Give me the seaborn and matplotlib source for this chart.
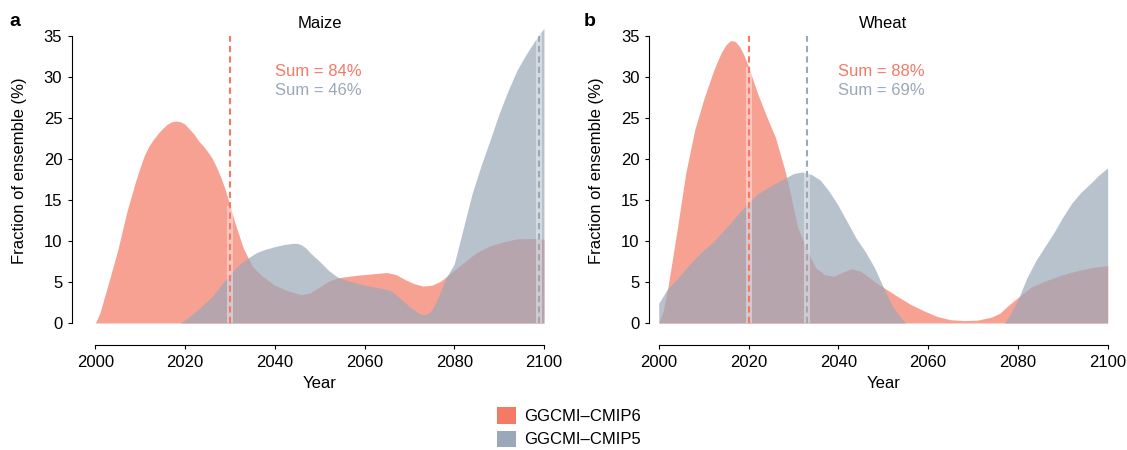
import numpy as np
import matplotlib
matplotlib.use("Agg")
import matplotlib.pyplot as plt
from matplotlib.patches import Patch
from matplotlib.transforms import blended_transform_factory
import seaborn as sns

# ---- data -----------------------------------------------------------------
maize_cmip6_years = [2000, 2001, 2003, 2005, 2007, 2009, 2010, 2011, 2012, 2013, 2014, 2015,
                     2016, 2017, 2018, 2019, 2020, 2021, 2022, 2023, 2024, 2025, 2026, 2027,
                     2028, 2029, 2030, 2031, 2033, 2035, 2037, 2040, 2043, 2046, 2048, 2050,
                     2052, 2054, 2058, 2062, 2065, 2067, 2069, 2071, 2073, 2075, 2077, 2079,
                     2082, 2085, 2088, 2091, 2094, 2097, 2100]
maize_cmip6_vals = [0, 1.2, 5.0, 8.9, 13.5, 17.3, 19.0, 20.5, 21.6, 22.4, 23.1, 23.7,
                    24.2, 24.5, 24.6, 24.5, 24.2, 23.6, 23.0, 22.2, 21.6, 20.9, 20.1, 19.0,
                    17.7, 16.2, 14.3, 12.4, 9.1, 6.9, 5.8, 4.6, 3.9, 3.45, 3.7, 4.4,
                    5.1, 5.5, 5.8, 6.0, 6.15, 5.9, 5.3, 4.8, 4.5, 4.6, 5.1, 6.0,
                    7.3, 8.6, 9.4, 9.9, 10.25, 10.3, 10.2]

maize_cmip5_years = [2019, 2021, 2023, 2026, 2028, 2030, 2032, 2034, 2036, 2038, 2040, 2042,
                     2044, 2045, 2046, 2047, 2048, 2050, 2052, 2054, 2056, 2058, 2061, 2064,
                     2066, 2068, 2070, 2072, 2073, 2074, 2075, 2076, 2078, 2080, 2082, 2084,
                     2086, 2088, 2090, 2092, 2094, 2096, 2098, 2100]
maize_cmip5_vals = [0, 0.8, 1.7, 3.2, 4.6, 5.9, 7.1, 7.9, 8.6, 9.0, 9.3, 9.55,
                    9.7, 9.7, 9.5, 9.1, 8.5, 7.5, 6.4, 5.6, 5.2, 4.9, 4.5, 4.2,
                    3.9, 3.0, 2.0, 1.2, 1.0, 1.1, 1.6, 2.6, 5.3, 7.2, 11.5, 15.8,
                    19.2, 22.3, 25.5, 28.3, 30.8, 32.7, 34.4, 35.9]

wheat_cmip6_years = [2000, 2001, 2002, 2004, 2006, 2008, 2010, 2012, 2013, 2014, 2015, 2016,
                     2017, 2018, 2019, 2020, 2022, 2024, 2026, 2028, 2029, 2030, 2031, 2033,
                     2035, 2037, 2039, 2041, 2043, 2045, 2047, 2049, 2051, 2053, 2056, 2059,
                     2062, 2065, 2068, 2071, 2074, 2076, 2078, 2080, 2083, 2086, 2089, 2092,
                     2096, 2100]
wheat_cmip6_vals = [0, 1.5, 4.2, 11.0, 18.2, 23.5, 27.2, 30.4, 31.8, 33.0, 33.9, 34.4,
                    34.3, 33.7, 32.6, 31.2, 28.0, 25.2, 22.6, 18.8, 16.6, 14.0, 11.6, 8.9,
                    6.7, 5.9, 5.7, 6.2, 6.6, 6.3, 5.5, 4.7, 4.0, 3.3, 2.3, 1.5,
                    0.8, 0.4, 0.3, 0.35, 0.7, 1.2, 2.2, 3.1, 4.4, 5.1, 5.7, 6.2,
                    6.7, 7.0]

wheat_cmip5_years = [2000, 2002, 2004, 2006, 2008, 2010, 2012, 2014, 2016, 2018, 2020, 2022,
                     2024, 2026, 2028, 2030, 2032, 2034, 2036, 2038, 2040, 2042, 2044, 2046,
                     2048, 2050, 2052, 2054, 2055, 2077, 2078, 2080, 2082, 2084, 2086, 2088,
                     2090, 2092, 2094, 2096, 2098, 2100]
wheat_cmip5_vals = [2.4, 4.2, 5.3, 6.6, 7.8, 8.9, 9.8, 11.0, 12.2, 13.5, 14.7, 15.7,
                    16.4, 17.0, 17.6, 18.2, 18.4, 18.1, 17.4, 16.0, 14.3, 12.3, 10.3, 8.7,
                    6.8, 4.4, 2.1, 0.6, 0, 0, 0.8, 2.8, 5.5, 7.6, 9.3, 11.0,
                    12.9, 14.6, 15.9, 16.9, 18.0, 18.9]

crops = ["Maize", "Wheat"]
panel_letters = ["a", "b"]
median_year_cmip6 = [2030, 2020]
median_year_cmip5 = [2099, 2033]
sum_cmip6 = [84, 88]
sum_cmip5 = [46, 69]
series_labels = ["GGCMI\u2013CMIP6", "GGCMI\u2013CMIP5"]
x_ticks = [2000, 2020, 2040, 2060, 2080, 2100]
y_ticks = [0, 5, 10, 15, 20, 25, 30, 35]

# ---- style ----------------------------------------------------------------
sns.set_style("ticks")
plt.rcParams["font.family"] = ["Liberation Sans", "DejaVu Sans"]
plt.rcParams["font.size"] = 12
for key in ("text.color", "axes.labelcolor", "xtick.color", "ytick.color", "axes.edgecolor"):
    plt.rcParams[key] = "black"
FS = 12
palette = sns.color_palette(["#F47A66", "#9BA8B9"])
c6, c5 = palette[0], palette[1]
alpha_fill = 0.7

fig = plt.figure(figsize=(11.27, 4.5), dpi=100)
ax_pos = [[0.06389, 0.2822, 0.42076, 0.6751],
          [0.57613, 0.2822, 0.40870, 0.6751]]
x_left = [1994.8, 1997.9]

data = [
    ((maize_cmip6_years, maize_cmip6_vals), (maize_cmip5_years, maize_cmip5_vals)),
    ((wheat_cmip6_years, wheat_cmip6_vals), (wheat_cmip5_years, wheat_cmip5_vals)),
]

for i, crop in enumerate(crops):
    ax = fig.add_axes(ax_pos[i])
    (y6x, y6v), (y5x, y5v) = data[i]
    ax.fill_between(y6x, 0, y6v, color=c6, alpha=alpha_fill, lw=0, zorder=1)
    ax.fill_between(y5x, 0, y5v, color=c5, alpha=alpha_fill, lw=0, zorder=2)

    # median markers: light strip under the curves plus dashed line
    for yr, col in ((median_year_cmip6[i], c6), (median_year_cmip5[i], c5)):
        top = max(np.interp(yr, y6x, y6v, left=0, right=0),
                  np.interp(yr, y5x, y5v, left=0, right=0))
        ax.vlines(yr, 0, top, color="white", alpha=0.4, lw=4.3, zorder=3)
        ax.vlines(yr, 0, 35, color=col, lw=1.5, linestyles=(0, (3, 2)), zorder=4)

    ax.set_xlim(x_left[i], 2100.5)
    ax.set_ylim(0, 37)
    ax.set_xticks(x_ticks)
    ax.set_yticks(y_ticks)
    ax.spines["top"].set_visible(False)
    ax.spines["right"].set_visible(False)
    ax.spines["left"].set_bounds(0, 35)
    ax.spines["bottom"].set_bounds(2000, 2100)
    ax.spines["bottom"].set_position(("outward", 16))
    for s in ("left", "bottom"):
        ax.spines[s].set_linewidth(0.8)
        ax.spines[s].set_color("black")
    ax.tick_params(axis="both", length=3, width=0.8, pad=4, labelsize=FS, colors="black")
    ax.patch.set_alpha(0)

    xr = (2050 - x_left[i]) / (2100.5 - x_left[i])
    ax.set_xlabel("Year", fontsize=FS)
    ax.xaxis.set_label_coords(xr, -0.175)
    ax.set_ylabel("Fraction of ensemble (%)", fontsize=FS)
    width_px = ax_pos[i][2] * 1127
    label_right = [27, 604][i]
    ax.yaxis.set_label_coords((label_right - ax_pos[i][0] * 1127) / width_px, 0.5)

    trans = blended_transform_factory(ax.transData, fig.transFigure)
    ax.text(2050, 1 - 23 / 450, crop, transform=trans, ha="center", va="center", fontsize=FS)
    ax.text(2040, 30.6, f"Sum = {sum_cmip6[i]}%", color=c6, ha="left", va="center", fontsize=FS)
    ax.text(2040, 28.3, f"Sum = {sum_cmip5[i]}%", color=c5, ha="left", va="center", fontsize=FS)

    letter_x = [15, 590][i]
    fig.text(letter_x / 1127, 1 - 21 / 450, panel_letters[i], fontsize=14,
             fontweight="bold", ha="center", va="center")

handles = [Patch(facecolor=c6, edgecolor="none"), Patch(facecolor=c5, edgecolor="none")]
fig.legend(handles, series_labels, loc="upper left",
           bbox_to_anchor=(497 / 1127, 1 - 407 / 450), frameon=False,
           handlelength=1.15, handleheight=1.15, handletextpad=0.45,
           labelspacing=0.4, borderpad=0, borderaxespad=0, fontsize=FS)

fig.savefig("out.png", dpi=100)
